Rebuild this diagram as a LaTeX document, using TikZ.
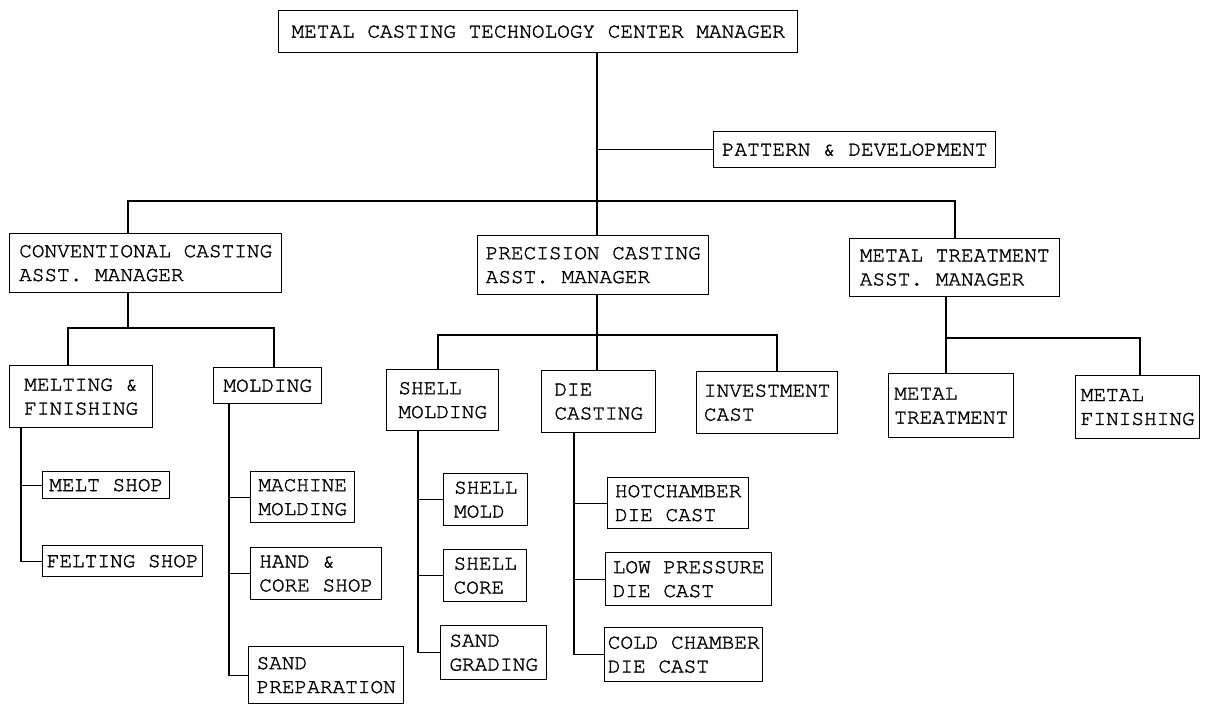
\documentclass[tikz,border=0pt]{standalone}
\usepackage{fontspec}
\newfontfamily\typer[FakeBold=1.5]{texgyrecursor-regular.otf}
\usetikzlibrary{positioning, calc}
\tikzset{
    unit/.style={draw, line width=0.8pt, anchor=north west, align=left, inner sep=0pt, font=\typer\fontsize{12}{13.6}\selectfont},
    sz/.style 2 args={minimum width={#1*0.2mm}, minimum height={#2*0.2mm}},
    link/.style={line width=0.8pt}
}
\begin{document}
\begin{tikzpicture}[x=0.2mm, y=-0.2mm]
        \useasboundingbox (0,0) rectangle (1207,704);
        % top level
        \node[unit, sz={519}{42}] (top) at (278,10) {METAL CASTING TECHNOLOGY CENTER MANAGER};
        \node[unit, sz={282}{36}] (pattern) at (713,131) {PATTERN \& DEVELOPMENT};
        % assistant managers
        \node[unit, sz={272}{59}] (conv) at (9,233) {CONVENTIONAL CASTING\\ASST. MANAGER};
        \node[unit, sz={231}{59}] (prec) at (477,235) {PRECISION CASTING\\ASST. MANAGER};
        \node[unit, sz={210}{58}] (mtam) at (849,238) {METAL TREATMENT\\ASST. MANAGER};
        % sections
        \node[unit, sz={143}{62}] (melt) at (9,365) {MELTING \&\\FINISHING};
        \node[unit, sz={108}{36}] (mold) at (213,367) {MOLDING};
        \node[unit, sz={112}{61}] (shellm) at (386,369) {SHELL\\MOLDING};
        \node[unit, sz={114}{62}] (diec) at (541,370) {DIE\\CASTING};
        \node[unit, sz={141}{62}] (invest) at (696,371) {INVESTMENT\\CAST};
        \node[unit, sz={125}{64}] (mtreat) at (888,373) {METAL\\TREATMENT};
        \node[unit, sz={124}{63}] (mfinish) at (1075,375) {METAL\\FINISHING};
        % shops
        \node[unit, sz={127}{27}] (meltshop) at (42,471) {MELT SHOP};
        \node[unit, sz={160}{31}] (feltshop) at (42,545) {FELTING SHOP};
        \node[unit, sz={104}{51}] (machmold) at (250,471) {MACHINE\\MOLDING};
        \node[unit, sz={131}{52}] (handcore) at (250,547) {HAND \&\\CORE SHOP};
        \node[unit, sz={155}{57}] (sandprep) at (248,646) {SAND\\PREPARATION};
        \node[unit, sz={84}{52}] (shellmold) at (443,473) {SHELL\\MOLD};
        \node[unit, sz={83}{52}] (shellcore) at (443,549) {SHELL\\CORE};
        \node[unit, sz={106}{54}] (sandgrade) at (440,625) {SAND\\GRADING};
        \node[unit, sz={141}{51}] (hotch) at (607,477) {HOTCHAMBER\\DIE CAST};
        \node[unit, sz={166}{53}] (lowpr) at (605,552) {LOW PRESSURE\\DIE CAST};
        \node[unit, sz={158}{54}] (coldch) at (604,627) {COLD CHAMBER\\DIE CAST};
        % junction points
        \coordinate (trunk) at (597,201);
        \coordinate (barL) at (128,201);
        \coordinate (barR) at (955,201);
        \coordinate (convL) at (68,328);
        \coordinate (convR) at (274,328);
        \coordinate (precL) at (438,335);
        \coordinate (precR) at (777,335);
        \coordinate (mtamL) at (946,338);
        \coordinate (mtamR) at (1140,338);
        \coordinate (meltx) at (21,0);
        \coordinate (moldx) at (229,0);
        \coordinate (shellx) at (418,0);
        \coordinate (diex) at (574,0);
        % connectors
        \draw[link] (top.south -| trunk) -- (prec.north -| trunk);
        \draw[link] (pattern.west) -- (pattern.west -| trunk);
        \draw[link] (conv.north -| barL) -- (barL) -- (barR) -- (mtam.north -| barR);
        \draw[link] (conv.south -| barL) -- (convL -| barL);
        \draw[link] (melt.north -| convL) |- (convR) -- (mold.north -| convR);
        \draw[link] (prec.south -| trunk) -- (precL -| trunk);
        \draw[link] (shellm.north -| precL) |- (precR) -- (invest.north -| precR);
        \draw[link] (diec.north -| trunk) -- (precL -| trunk);
        \draw[link] (mtam.south -| mtamL) -- (mtreat.north -| mtamL);
        \draw[link] (mtamL) -- (mtamR) -- (mfinish.north -| mtamR);
        \draw[link] (melt.south -| meltx) |- (feltshop.west);
        \draw[link] (meltshop.west) -- (meltshop.west -| meltx);
        \draw[link] (mold.south -| moldx) |- (sandprep.west);
        \draw[link] (machmold.west) -- (machmold.west -| moldx);
        \draw[link] (handcore.west) -- (handcore.west -| moldx);
        \draw[link] (shellm.south -| shellx) |- (sandgrade.west);
        \draw[link] (shellmold.west) -- (shellmold.west -| shellx);
        \draw[link] (shellcore.west) -- (shellcore.west -| shellx);
        \draw[link] (diec.south -| diex) |- (coldch.west);
        \draw[link] (hotch.west) -- (hotch.west -| diex);
        \draw[link] (lowpr.west) -- (lowpr.west -| diex);
    \end{tikzpicture}
\end{document}
